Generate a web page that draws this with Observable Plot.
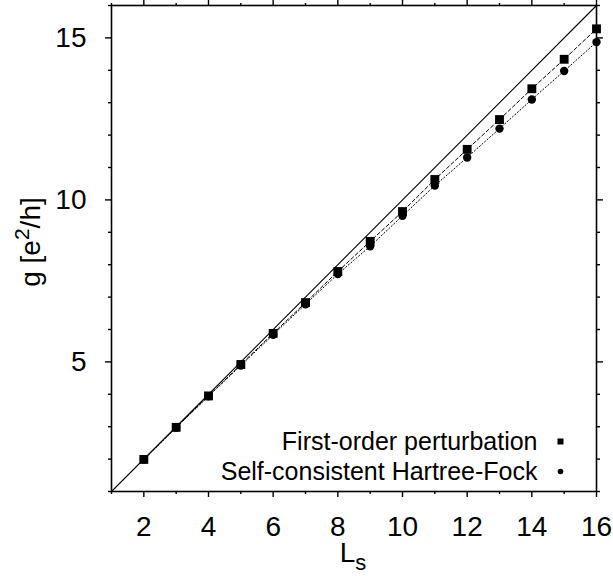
<!DOCTYPE html>
<html>
<head>
<meta charset="utf-8">
<script src="https://cdn.jsdelivr.net/npm/d3@7"></script>
<script src="https://cdn.jsdelivr.net/npm/@observablehq/plot@0.6"></script>
<style>
  body { margin: 0; background: #fff; }
  #chart { width: 613px; height: 576px; }
</style>
</head>
<body>
<div id="chart"></div>
<script>
const Ls = [2, 3, 4, 5, 6, 7, 8, 9, 10, 11, 12, 13, 14, 15, 16];
const firstOrder = [1.99, 2.98, 3.95, 4.92, 5.88, 6.83, 7.79, 8.72, 9.64, 10.63, 11.56, 12.48, 13.43, 14.34, 15.28];
const hartreeFock = [1.99, 2.97, 3.94, 4.89, 5.84, 6.78, 7.71, 8.57, 9.51, 10.44, 11.31, 12.20, 13.10, 13.98, 14.87];
const diagX = [1, 16];
const diagY = [1, 16];
const xMajor = [2, 4, 6, 8, 10, 12, 14, 16];
const xMinor = [1, 3, 5, 7, 9, 11, 13, 15];
const yMajor = [5, 10, 15];
const yMinor = [1, 2, 3, 4, 6, 7, 8, 9, 11, 12, 13, 14, 16];
const legendLabels = ["First-order perturbation", "Self-consistent Hartree-Fock"];

const fo = Ls.map((x, i) => ({x, y: firstOrder[i]}));
const hf = Ls.map((x, i) => ({x, y: hartreeFock[i]}));
const diag = diagX.map((x, i) => ({x, y: diagY[i]}));

const font = "Liberation Sans, Arial, Helvetica, sans-serif";
const noText = {fill: "none", tickFormat: () => "", label: null, strokeWidth: 1.4};

const plot = Plot.plot({
  width: 613,
  height: 576,
  marginLeft: 111,
  marginRight: 17,
  marginTop: 5,
  marginBottom: 85,
  style: {fontFamily: font, background: "#fff", color: "#000"},
  x: {domain: [1, 16]},
  y: {domain: [1, 16]},
  marks: [
    Plot.line(diag, {x: "x", y: "y", stroke: "#000", strokeWidth: 1.1}),
    Plot.line(fo, {x: "x", y: "y", stroke: "#000", strokeWidth: 1, strokeDasharray: "3.5,2.5"}),
    Plot.line(hf, {x: "x", y: "y", stroke: "#000", strokeWidth: 1, strokeDasharray: "1.2,2.2"}),
    Plot.dot(fo, {x: "x", y: "y", symbol: "square", r: 5, fill: "#000", stroke: "none"}),
    Plot.dot(hf, {x: "x", y: "y", symbol: "circle", r: 4.2, fill: "#000", stroke: "none"}),
    Plot.frame({stroke: "#000", strokeWidth: 1.6}),
    Plot.axisX(xMajor, {anchor: "bottom", tickSize: 6, tickPadding: 19, fontSize: 28, strokeWidth: 1.4, label: null}),
    Plot.axisX(xMinor, {anchor: "bottom", tickSize: 3, ...noText}),
    Plot.axisX(xMajor, {anchor: "top", tickSize: 6, ...noText}),
    Plot.axisX(xMinor, {anchor: "top", tickSize: 3, ...noText}),
    Plot.axisY(yMajor, {anchor: "left", tickSize: 6, tickPadding: 19, fontSize: 28, strokeWidth: 1.4, label: null}),
    Plot.axisY(yMinor, {anchor: "left", tickSize: 3, ...noText}),
    Plot.axisY(yMajor, {anchor: "right", tickSize: 6, ...noText}),
    Plot.axisY(yMinor, {anchor: "right", tickSize: 3, ...noText}),
    // legend
    Plot.text([legendLabels[0]], {text: d => d, frameAnchor: "bottom-right", textAnchor: "end", lineAnchor: "middle", dx: -59, dy: -50, fontSize: 25, fill: "#000"}),
    Plot.text([legendLabels[1]], {text: d => d, frameAnchor: "bottom-right", textAnchor: "end", lineAnchor: "middle", dx: -59, dy: -20, fontSize: 25, fill: "#000"}),
    Plot.dot([legendLabels[0]], {frameAnchor: "bottom-right", dx: -36, dy: -50, symbol: "square", r: 3.4, fill: "#000", stroke: "none"}),
    Plot.dot([legendLabels[1]], {frameAnchor: "bottom-right", dx: -36, dy: -20, symbol: "circle", r: 2.8, fill: "#000", stroke: "none"})
  ]
});

const svg = d3.select(plot);
// x-axis label L_s
const xl = svg.append("text")
  .attr("x", 353).attr("y", 562)
  .attr("text-anchor", "middle")
  .attr("font-family", font)
  .attr("font-size", 28)
  .attr("fill", "#000");
xl.append("tspan").text("L");
xl.append("tspan").attr("dy", 8).attr("font-size", 22).text("s");

// y-axis label g [e^2/h]
const yl = svg.append("text")
  .attr("transform", "translate(40,242) rotate(-90)")
  .attr("text-anchor", "middle")
  .attr("font-family", font)
  .attr("font-size", 28)
  .attr("fill", "#000");
yl.append("tspan").text("g [e");
yl.append("tspan").attr("dy", -11).attr("font-size", 21).text("2");
yl.append("tspan").attr("dy", 11).text("/h]");

document.getElementById("chart").appendChild(plot);
</script>
</body>
</html>
